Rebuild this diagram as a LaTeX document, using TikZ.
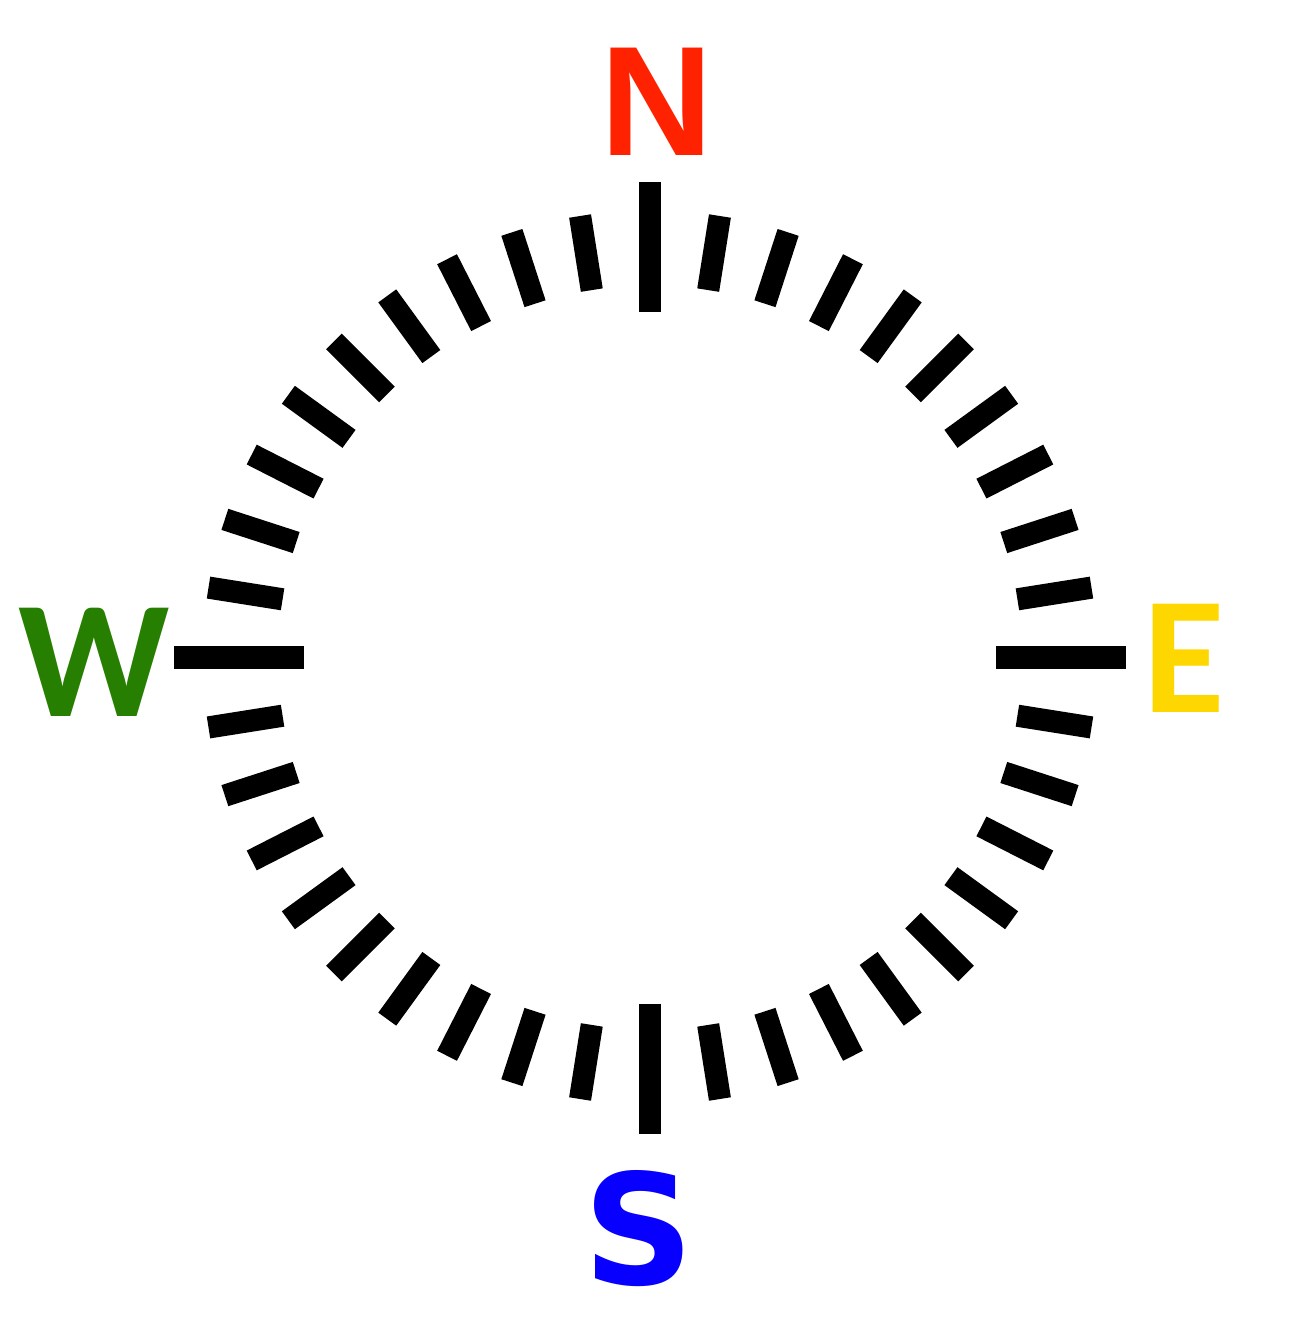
\documentclass[tikz,border=0pt]{standalone}
\usepackage{fontspec}
\newfontfamily\dvfont{DejaVu Sans}
\newfontfamily\lbfont{Liberation Sans}
\newfontfamily\crfont{Carlito}
\definecolor{nred}{RGB}{255,34,0}
\definecolor{sblue}{RGB}{8,0,255}
\definecolor{wgreen}{RGB}{38,127,0}
\definecolor{egold}{RGB}{255,215,0}
\tikzset{
  majortick/.style={line width=6.3pt, line cap=butt, black},
  minortick/.style={line width=6.3pt, line cap=butt, black},
  dvlabel/.style={inner sep=0pt, anchor=base, font=\dvfont\bfseries\fontsize{43.7}{50}\selectfont},
  lblabel/.style={inner sep=0pt, anchor=base, font=\lbfont\bfseries\fontsize{44.4}{50}\selectfont},
  crlabel/.style={inner sep=0pt, anchor=base, font=\crfont\bfseries\fontsize{47.5}{56}\selectfont}
}
\begin{document}
\begin{tikzpicture}[x=0.01cm,y=-0.01cm]
\useasboundingbox (0,0) rectangle (1300,1329);
\coordinate (c) at (650,657.5);
\foreach \q in {0,90,180,270}{
  \draw[majortick] ([shift={(c)}]\q:346) -- ([shift={(c)}]\q:476);
  \foreach \k in {1,...,9}{
    \draw[minortick] ([shift={(c)}]\q+\k*9:372) -- ([shift={(c)}]\q+\k*9:447);
  }
}
\node[lblabel, text=nred] (N) at (656.5,155) {N};
\node[dvlabel, text=sblue] (S) at (638.5,1284) {S};
\node[crlabel, text=wgreen] (W) at (94,716) {W};
\node[crlabel, text=egold] (E) at (1184,712) {E};
\end{tikzpicture}
\end{document}
